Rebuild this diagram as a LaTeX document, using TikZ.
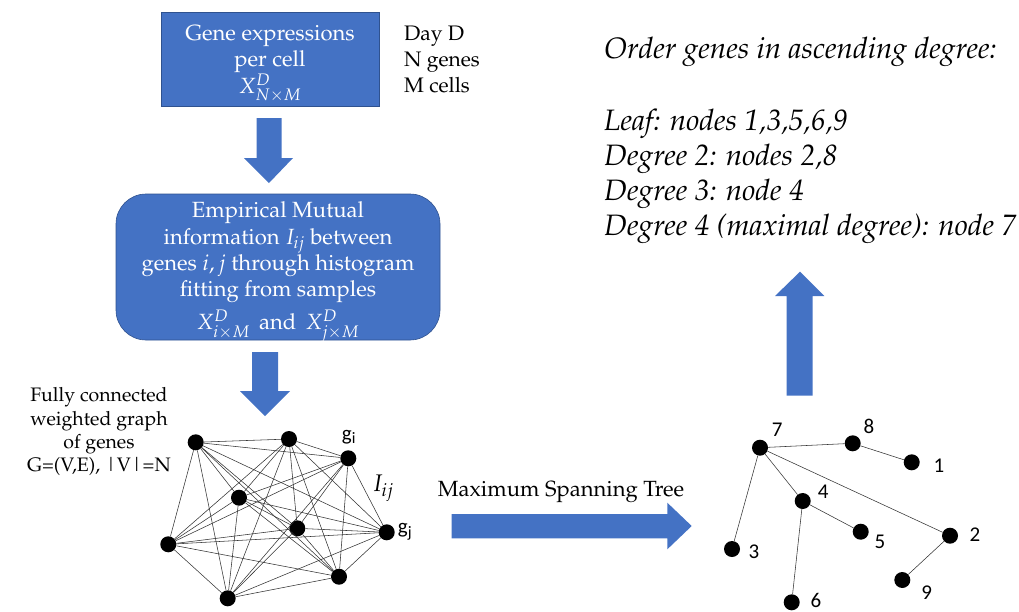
\documentclass[tikz,border=0pt]{standalone}
\usepackage{fontspec}
\newfontfamily\labelfont{Carlito}
\usepackage[T1]{fontenc}
\usepackage{mathpazo}
\definecolor{boxblue}{HTML}{4472C4}
\definecolor{boxedge}{HTML}{2F528F}
\begin{document}
\begin{tikzpicture}[x=1pt,y=-1pt,
  dot/.style={circle,fill=black,inner sep=0pt,minimum size=16pt},
  bluebox/.style={fill=boxblue,draw=boxedge,line width=0.6pt,text=white,align=center,inner sep=0pt},
  blockarrow/.style={fill=boxblue},
  gedge/.style={line width=0.55pt,draw=black!80},
  tedge/.style={line width=0.55pt,draw=black!80},
  txt/.style={inner sep=0pt},
  num/.style={inner sep=0pt,font=\labelfont\fontsize{21}{24}\selectfont},
  listline/.style={inner sep=0pt,anchor=base west,font=\itshape\fontsize{29.5}{34}\selectfont},
  leftline/.style={inner sep=0pt,anchor=base,font=\fontsize{19.5}{23}\selectfont},
  infoline/.style={inner sep=0pt,anchor=base west,font=\fontsize{21}{26}\selectfont},
  boxline/.style={inner sep=0pt,anchor=base,text=white,font=\fontsize{22}{26}\selectfont},
]
\useasboundingbox (0,0) rectangle (1019,611);

% processing boxes
\node[bluebox,minimum width=218pt,minimum height=94pt] (expr) at (270,59.5) {};
\node[boxline] (e1) at (270,40) {Gene expressions};
\node[boxline] (e2) at (270,66) {per cell};
\node[boxline] (e3) at (270,93) {$X^{D}_{N\times M}$};
\node[infoline] (info1) at (404,40) {Day D};
\node[infoline] (info2) at (404,66) {N genes};
\node[infoline] (info3) at (404,92) {M cells};

\node[bluebox,rounded corners=30pt,minimum width=324pt,minimum height=146pt] (mi) at (278,267) {};
\node[boxline] (m1) at (278,217) {Empirical Mutual};
\node[boxline] (m2) at (278,244) {information $I_{ij}$ between};
\node[boxline] (m3) at (278,270.5) {genes $i,j$ through histogram};
\node[boxline] (m4) at (278,296) {fitting from samples};
\node[boxline] (m5) at (278,329.5) {$X^{D}_{i\times M}$\, and\, $X^{D}_{j\times M}$};

% block arrows
\fill[blockarrow] (256.7,118) -- (281.7,118) -- (281.7,158) -- (293,158) -- (269,183)
  -- (244,158) -- (256.7,158) -- cycle;
\fill[blockarrow] (252,352) -- (278,352) -- (278,391) -- (290,391) -- (265,416)
  -- (240,391) -- (252,391) -- cycle;
\fill[blockarrow] (451.7,514) -- (667.3,514) -- (667.3,502.7) -- (691.7,526)
  -- (667.3,549.3) -- (667.3,538.3) -- (451.7,538.3) -- cycle;
\fill[blockarrow] (786.7,395.7) -- (786.7,296) -- (775,296) -- (800,271.7)
  -- (824.3,296) -- (812.7,296) -- (812.7,395.7) -- cycle;

\node[txt,anchor=base,font=\fontsize{22}{26}\selectfont] (mst) at (561,496.5)
  {Maximum Spanning Tree};

% graph description
\node[leftline] (fl1) at (99,401.5) {Fully connected};
\node[leftline] (fl2) at (99,425) {weighted graph};
\node[leftline] (fl3) at (99,448) {of genes};
\node[leftline] (fl4) at (99,471) {G=(V,E), |V|=N};

% fully connected graph
\node[dot] (g1) at (195.7,442.3) {};
\node[dot] (g2) at (289,439) {};
\node[dot] (g3) at (348.3,458.3) {};
\node[dot] (g4) at (239,497.7) {};
\node[dot] (g5) at (297.3,528.3) {};
\node[dot] (g6) at (386.7,532.3) {};
\node[dot] (g7) at (168.3,544.3) {};
\node[dot] (g8) at (339,576.7) {};
\node[dot] (g9) at (227.7,598.3) {};
\foreach \i in {1,...,9}{
  \foreach \j in {1,...,9}{
    \ifnum\i<\j \draw[gedge] (g\i) -- (g\j); \fi
  }
}
\node[txt,font=\labelfont\fontsize{21}{24}\selectfont] (gi) at (349,437) {g\textsubscript{i}};
\node[txt,font=\labelfont\fontsize{21}{24}\selectfont] (gj) at (405,532) {g\textsubscript{j}};
\node[txt,font=\fontsize{24}{28}\selectfont] (iij) at (383,488) {$I_{ij}$};

% spanning tree
\node[dot] (t7) at (760,447.7) {};
\node[dot] (t8) at (852.7,443.3) {};
\node[dot] (t1) at (911.7,462.3) {};
\node[dot] (t4) at (802.7,501) {};
\node[dot] (t5) at (860.7,531.7) {};
\node[dot] (t2) at (950,535.7) {};
\node[dot] (t9) at (902.3,580) {};
\node[dot] (t3) at (732,549) {};
\node[dot] (t6) at (791.7,602.3) {};
\draw[tedge] (t7) -- (t8);
\draw[tedge] (t8) -- (t1);
\draw[tedge] (t7) -- (t4);
\draw[tedge] (t7) -- (t2);
\draw[tedge] (t7) -- (t3);
\draw[tedge] (t4) -- (t5);
\draw[tedge] (t4) -- (t6);
\draw[tedge] (t2) -- (t9);
\node[num] (n7) at (777.3,429.3) {7};
\node[num] (n8) at (869,426.7) {8};
\node[num] (n1) at (939,466) {1};
\node[num] (n4) at (823.3,491.7) {4};
\node[num] (n5) at (880,541.7) {5};
\node[num] (n2) at (975,535) {2};
\node[num] (n9) at (926.7,592.3) {9};
\node[num] (n3) at (754,551.7) {3};
\node[num] (n6) at (816,600) {6};

% degree ordering
\node[listline] (l0) at (604,58) {Order genes in ascending degree:};
\node[listline] (l1) at (604,130) {Leaf: nodes 1,3,5,6,9};
\node[listline] (l2) at (604,165) {Degree 2: nodes 2,8};
\node[listline] (l3) at (604,200) {Degree 3: node 4};
\node[listline] (l4) at (604,235) {Degree 4 (maximal degree): node 7};
\end{tikzpicture}
\end{document}
